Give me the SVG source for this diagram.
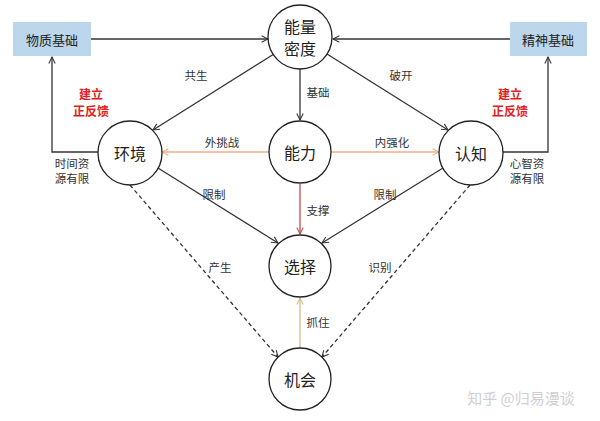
<svg xmlns="http://www.w3.org/2000/svg" width="600" height="421" viewBox="0 0 600 421">
<style>
text{font-family:"Noto Sans CJK SC","Noto Sans",sans-serif;fill:#222;text-anchor:middle;dominant-baseline:central}
.node circle{fill:#fff;stroke:#222;stroke-width:1.3}
.node text{font-size:16px}
.box rect{fill:#bcd6ec}
.box text{font-size:13px}
.lbl{font-size:11.5px;fill:#333}
.red{font-size:12px;font-weight:bold;fill:#e02020}
.e{fill:none;stroke:#333;stroke-width:1.3}
.dash{stroke-dasharray:4 3}
.or{stroke:#eeb08a}
.rd{stroke:#c4484a}
.tan{stroke:#d8b98c}
.wm{font-size:15px;fill:#cfcfcf}
</style>
<defs>
<marker id="a" viewBox="0 0 10 10" refX="9" refY="5" markerWidth="8" markerHeight="8" orient="auto" markerUnits="userSpaceOnUse"><path d="M1,1 L9,5 L1,9" fill="none" stroke="#333" stroke-width="1.3"/></marker>
<marker id="ao" viewBox="0 0 10 10" refX="9" refY="5" markerWidth="8" markerHeight="8" orient="auto" markerUnits="userSpaceOnUse"><path d="M1,1 L9,5 L1,9" fill="none" stroke="#eeb08a" stroke-width="1.3"/></marker>
<marker id="ar" viewBox="0 0 10 10" refX="9" refY="5" markerWidth="8" markerHeight="8" orient="auto" markerUnits="userSpaceOnUse"><path d="M1,1 L9,5 L1,9" fill="none" stroke="#c4484a" stroke-width="1.3"/></marker>
<marker id="at" viewBox="0 0 10 10" refX="9" refY="5" markerWidth="8" markerHeight="8" orient="auto" markerUnits="userSpaceOnUse"><path d="M1,1 L9,5 L1,9" fill="none" stroke="#d8b98c" stroke-width="1.3"/></marker>
</defs>
<rect width="600" height="421" fill="#fff"/>
<g id="connectors">
<path class="e" d="M91,39 H268" marker-end="url(#a)"/>
<path class="e" d="M510,39 H333" marker-end="url(#a)"/>
<path class="e" d="M98,152 H52 V57" marker-end="url(#a)"/>
<path class="e" d="M503,152 H548 V57" marker-end="url(#a)"/>
<path class="e" d="M274,54 L153,130" marker-end="url(#a)"/>
<path class="e" d="M327,54 L448,130" marker-end="url(#a)"/>
<path class="e" d="M300,69 V120" marker-end="url(#a)"/>
<path class="e or" d="M269,152 H162" marker-end="url(#ao)"/>
<path class="e or" d="M331,152 H439" marker-end="url(#ao)"/>
<path class="e rd" d="M300,184 V234" marker-end="url(#ar)"/>
<path class="e" d="M158,168 L278,243" marker-end="url(#a)"/>
<path class="e" d="M443,168 L322,243" marker-end="url(#a)"/>
<path class="e dash" d="M130,185 L278,357" marker-end="url(#a)"/>
<path class="e dash" d="M470,185 L322,357" marker-end="url(#a)"/>
<path class="e tan" d="M300,348 V298" marker-end="url(#at)"/>
</g>
<g id="labels">
<text class="lbl" x="196" y="75">共生</text>
<text class="lbl" x="401" y="75">破开</text>
<text class="lbl" x="318" y="92">基础</text>
<text class="lbl" x="222" y="142">外挑战</text>
<text class="lbl" x="392" y="142">内强化</text>
<text class="lbl" x="318" y="210">支撑</text>
<text class="lbl" x="214" y="194">限制</text>
<text class="lbl" x="385" y="194">限制</text>
<text class="lbl" x="220" y="267">产生</text>
<text class="lbl" x="380" y="267">识别</text>
<text class="lbl" x="318" y="322">抓住</text>
<text class="red" x="91" y="93">建立</text>
<text class="red" x="91" y="110">正反馈</text>
<text class="red" x="510" y="93">建立</text>
<text class="red" x="510" y="110">正反馈</text>
<text class="lbl" x="72" y="163">时间资</text>
<text class="lbl" x="72" y="178">源有限</text>
<text class="lbl" x="527" y="163">心智资</text>
<text class="lbl" x="527" y="178">源有限</text>
<text class="wm" x="521" y="397">知乎 @归易漫谈</text>
</g>
<g id="box-wuzhi" class="box"><rect x="13" y="22" width="78" height="34"/><text x="52" y="39">物质基础</text></g>
<g id="box-jingshen" class="box"><rect x="510" y="22" width="77" height="34"/><text x="548" y="39">精神基础</text></g>
<g id="node-nengliangmidu" class="node"><circle cx="300" cy="37" r="32"/><text x="300" y="26">能量</text><text x="300" y="48">密度</text></g>
<g id="node-nengli" class="node"><circle cx="300" cy="152" r="31"/><text x="300" y="152">能力</text></g>
<g id="node-huanjing" class="node"><circle cx="130" cy="153" r="32"/><text x="130" y="153">环境</text></g>
<g id="node-renzhi" class="node"><circle cx="471" cy="153" r="32"/><text x="471" y="153">认知</text></g>
<g id="node-xuanze" class="node"><circle cx="300" cy="266" r="31"/><text x="300" y="266">选择</text></g>
<g id="node-jihui" class="node"><circle cx="300" cy="379" r="31"/><text x="300" y="379">机会</text></g>
</svg>
